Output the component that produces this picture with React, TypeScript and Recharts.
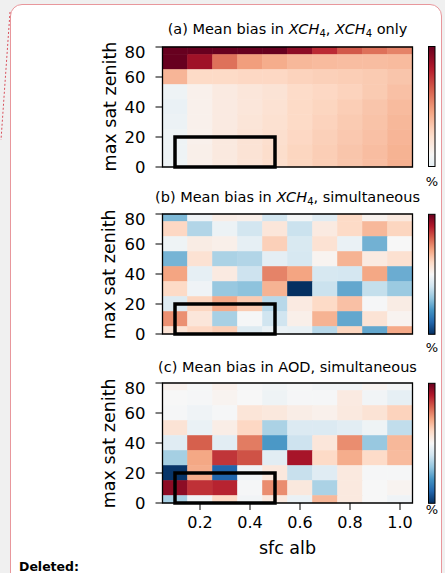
import { ScatterChart, Scatter, XAxis, YAxis, ReferenceArea } from 'recharts';

// surface albedo bins (columns) and max satellite zenith bins (rows, top to bottom)
const ALBEDO = [0.1, 0.2, 0.3, 0.4, 0.5, 0.6, 0.7, 0.8, 0.9, 1.0];
const ZENITH = [80, 70, 60, 50, 40, 30, 20, 10, 0];
const X_TICKS = [0.2, 0.4, 0.6, 0.8, 1.0];
const Y_TICKS = [0, 20, 40, 60, 80];

// colour values, scaled to the colour bar (-1 blue .. 1 red)
const BIAS_XCH4_ONLY = [
  [1.0, 1.0, 1.0, 1.0, 1.0, 0.9, 0.75, 0.62, 0.55, 0.5],
  [1.0, 0.85, 0.55, 0.42, 0.37, 0.33, 0.32, 0.31, 0.31, 0.32],
  [0.34, 0.2, 0.2, 0.21, 0.21, 0.23, 0.24, 0.25, 0.26, 0.28],
  [-0.05, 0.05, 0.09, 0.12, 0.14, 0.19, 0.21, 0.23, 0.26, 0.3],
  [-0.07, 0.05, 0.09, 0.12, 0.15, 0.2, 0.22, 0.25, 0.28, 0.32],
  [-0.06, 0.05, 0.09, 0.13, 0.16, 0.2, 0.23, 0.26, 0.29, 0.33],
  [-0.05, 0.05, 0.1, 0.14, 0.17, 0.21, 0.24, 0.27, 0.3, 0.34],
  [-0.05, 0.06, 0.1, 0.14, 0.18, 0.22, 0.25, 0.28, 0.31, 0.35],
  [-0.05, 0.06, 0.1, 0.14, 0.18, 0.22, 0.25, 0.28, 0.31, 0.36],
];

const BIAS_XCH4_SIM = [
  [-0.45, -0.04, 0.07, 0.06, -0.19, -0.02, -0.12, 0.2, 0.04, 0.1],
  [0.21, -0.3, -0.06, -0.19, 0.12, -0.22, 0.09, 0.2, 0.33, 0.22],
  [-0.05, 0.08, 0.06, -0.09, 0.24, -0.16, 0.15, -0.07, -0.48, 0.0],
  [-0.47, 0.15, -0.32, -0.3, -0.1, -0.17, 0.03, 0.35, 0.09, 0.16],
  [0.4, -0.09, 0.09, -0.21, 0.5, 0.4, -0.17, -0.18, 0.39, -0.5],
  [0.2, -0.04, -0.38, -0.41, 0.35, -1.0, -0.22, -0.52, -0.24, -0.37],
  [-0.13, 0.22, 0.38, 0.26, -0.28, 0.09, 0.2, 0.3, -0.01, 0.08],
  [0.46, 0.12, -0.33, -0.01, -0.2, 0.06, 0.35, -0.52, 0.14, 0.03],
  [0.14, 0.21, 0.25, -0.13, -0.07, -0.08, -0.28, 0.22, -0.52, 0.38],
];

const BIAS_AOD_SIM = [
  [0.04, -0.01, 0.05, -0.01, -0.03, -0.01, -0.03, -0.03, 0.03, -0.02],
  [0.0, -0.01, 0.03, 0.0, -0.05, -0.01, -0.01, 0.09, -0.03, -0.09],
  [-0.01, -0.04, -0.01, 0.13, 0.11, 0.07, 0.05, 0.1, 0.14, 0.23],
  [0.14, -0.07, 0.07, 0.21, -0.32, -0.14, -0.14, -0.11, -0.05, -0.25],
  [-0.12, 0.6, -0.11, 0.52, -0.58, -0.21, 0.12, 0.47, -0.38, 0.33],
  [-0.34, 0.39, 0.72, 0.64, -0.11, 0.83, 0.2, 0.37, 0.19, 0.32],
  [-0.98, 0.37, -0.8, -0.04, 0.11, -0.23, -0.12, 0.1, -0.01, -0.01],
  [0.9, 0.73, 0.77, -0.01, 0.47, 0.11, -0.32, 0.1, 0.0, 0.03],
  [-0.33, -0.03, 0.2, -0.03, 0.1, -0.07, 0.33, 0.1, 0.0, -0.04],
];

const RDBU_R = [
  '#053061', '#2166ac', '#4393c3', '#92c5de', '#d1e5f0', '#f7f7f7',
  '#fddbc7', '#f4a582', '#d6604d', '#b2182b', '#67001f',
];

function cmap(v: number) {
  const t = Math.max(-1, Math.min(1, v));
  const p = ((t + 1) / 2) * 10;
  const i = Math.min(9, Math.floor(p));
  const f = p - i;
  const a = RDBU_R[i];
  const b = RDBU_R[i + 1];
  const ch = (s: string, k: number) => parseInt(s.slice(1 + 2 * k, 3 + 2 * k), 16);
  const mix = [0, 1, 2].map(k => Math.round(ch(a, k) + (ch(b, k) - ch(a, k)) * f));
  return `rgb(${mix.join(',')})`;
}

const FONT = '"DejaVu Sans", sans-serif';
const PLOT_LEFT = 162.5;
const PLOT_W = 250;
const PLOT_H = 120;

interface PanelProps {
  top: number;
  values: number[][];
  showXLabels: boolean;
}

function Panel({ top, values, showXLabels }: PanelProps) {
  const cells = ZENITH.flatMap((zen, r) =>
    ALBEDO.map((alb, c) => ({ x: alb, y: zen, v: values[r][c] })),
  );
  return (
    <div style={{ position: 'absolute', left: 0, top: top - 5 }}>
      <ScatterChart
        width={445}
        height={PLOT_H + 35}
        margin={{ top: 5, right: 445 - PLOT_LEFT - PLOT_W, bottom: 0, left: 2.5 }}
      >
        <XAxis
          type="number"
          dataKey="x"
          domain={[0.05, 1.05]}
          allowDataOverflow
          ticks={X_TICKS}
          tickFormatter={(v) => Number(v).toFixed(1)}
          tick={showXLabels ? { fontSize: 16, fill: '#000', fontFamily: FONT } : false}
          tickSize={7}
          tickMargin={7}
          height={30}
          stroke="#000"
          axisLine={false}
        />
        <YAxis
          type="number"
          dataKey="y"
          domain={[0, 80]}
          allowDataOverflow
          ticks={Y_TICKS}
          tick={{ fontSize: 16.5, fill: '#000', fontFamily: FONT }}
          tickSize={7}
          tickMargin={10}
          width={PLOT_LEFT - 2.5}
          stroke="#000"
          axisLine={false}
        />
        {cells.map(cell => (
          <ReferenceArea
            key={`${cell.x}-${cell.y}`}
            x1={cell.x - 0.05}
            x2={cell.x + 0.05}
            y1={Math.max(0, cell.y - 5)}
            y2={Math.min(80, cell.y + 5)}
            fill={cmap(cell.v)}
            fillOpacity={1}
            stroke={cmap(cell.v)}
            strokeWidth={0.6}
          />
        ))}
        <ReferenceArea x1={0.1} x2={0.5} y1={0} y2={20} fill="none" stroke="#000" strokeWidth={3.5} />
        <ReferenceArea x1={0.05} x2={1.05} y1={0} y2={80} fill="none" stroke="#000" strokeWidth={1.3} />
        <Scatter data={cells} shape={() => <g />} isAnimationActive={false} />
      </ScatterChart>
    </div>
  );
}

function Colorbar({ id, top, from }: { id: string; top: number; from: number }) {
  const stops = Array.from({ length: 21 }, (_, k) => k / 20);
  return (
    <g>
      <defs>
        <linearGradient id={id} x1="0" y1="1" x2="0" y2="0">
          {stops.map(s => (
            <stop key={s} offset={s} stopColor={cmap(from + (1 - from) * s)} />
          ))}
        </linearGradient>
      </defs>
      <rect x={428.5} y={top} width={6.5} height={PLOT_H} fill={`url(#${id})`} stroke="#000" strokeWidth={1} />
    </g>
  );
}

function Title({ y, label, tail, xch }: { y: number; label: string; tail: string; xch: number }) {
  return (
    <text x={PLOT_LEFT + PLOT_W / 2} y={y} textAnchor="middle" fontSize={14.5}>
      {label}
      {xch > 0 && (
        <>
          <tspan fontStyle="italic">XCH</tspan>
          <tspan fontSize={10} dy={3}>4</tspan>
          <tspan dy={-3}>, </tspan>
        </>
      )}
      {xch > 1 && (
        <>
          <tspan fontStyle="italic">XCH</tspan>
          <tspan fontSize={10} dy={3}>4</tspan>
          <tspan dy={-3}> </tspan>
        </>
      )}
      {tail}
    </text>
  );
}

const PANEL_TOPS = [46.5, 214.3, 383.3];

export default function App() {
  return (
    <div
      style={{
        position: 'absolute', left: 0, top: 0, width: 445, height: 573,
        background: '#f0f0f0', overflow: 'hidden', fontFamily: FONT,
      }}
    >
      <div
        style={{
          position: 'absolute', left: 9.5, top: 3.5, width: 430, height: 580,
          background: '#fff', border: '1.5px solid #e8979c', borderRadius: 12,
        }}
      />
      <Panel top={PANEL_TOPS[0]} values={BIAS_XCH4_ONLY} showXLabels={false} />
      <Panel top={PANEL_TOPS[1]} values={BIAS_XCH4_SIM} showXLabels={false} />
      <Panel top={PANEL_TOPS[2]} values={BIAS_AOD_SIM} showXLabels />
      <svg
        width={445}
        height={573}
        style={{ position: 'absolute', left: 0, top: 0, pointerEvents: 'none' }}
        fontFamily={FONT}
      >
        <line x1={10} y1={12} x2={1} y2={140} stroke="#d9505c" strokeWidth={1} strokeDasharray="2 2" />
        <Title y={34.3} label="(a) Mean bias in " tail="only" xch={2} />
        <Title y={201.7} label="(b) Mean bias in " tail="simultaneous" xch={1} />
        <Title y={371.7} label="(c) Mean bias in AOD, simultaneous" tail="" xch={0} />
        {PANEL_TOPS.map(t => (
          <text
            key={t}
            x={115.5}
            y={t + PLOT_H / 2}
            transform={`rotate(-90, 115.5, ${t + PLOT_H / 2})`}
            textAnchor="middle"
            fontSize={17.5}
          >
            max sat zenith
          </text>
        ))}
        <Colorbar id="cb-a" top={PANEL_TOPS[0]} from={-0.1} />
        <Colorbar id="cb-b" top={PANEL_TOPS[1]} from={-1} />
        <Colorbar id="cb-c" top={PANEL_TOPS[2]} from={-1} />
        <text x={432} y={186} textAnchor="middle" fontSize={13}>%</text>
        <text x={432} y={351.7} textAnchor="middle" fontSize={13}>%</text>
        <text x={432} y={514} textAnchor="middle" fontSize={13}>%</text>
        <text x={PLOT_LEFT + PLOT_W / 2} y={554.3} textAnchor="middle" fontSize={17.5}>sfc alb</text>
        <text x={19} y={571} fontSize={12.5} fontWeight="bold">Deleted:</text>
      </svg>
    </div>
  );
}
